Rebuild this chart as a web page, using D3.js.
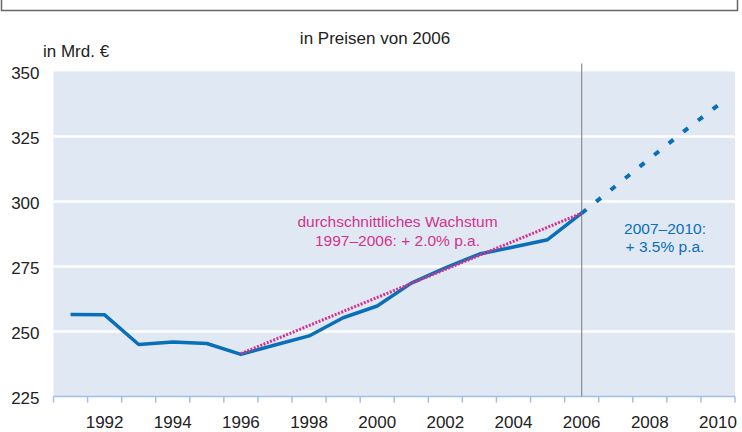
<!DOCTYPE html>
<html>
<head>
<meta charset="utf-8">
<script src="https://cdnjs.cloudflare.com/ajax/libs/d3/7.8.5/d3.min.js"></script>
<style>
  body { margin: 0; background: #fff; }
  text { font-family: "Liberation Sans", Arial, sans-serif; }
</style>
</head>
<body>
<div id="chart"></div>
<script>
// data
var years = d3.range(1991, 2011);
var tickLabels = [1992, 1994, 1996, 1998, 2000, 2002, 2004, 2006, 2008, 2010];
var yTicks = [225, 250, 275, 300, 325, 350];

var actualYears = [1991, 1992, 1993, 1994, 1995, 1996, 1997, 1998, 1999, 2000, 2001, 2002, 2003, 2004, 2005, 2006];
var actualValues = [256.5, 256.4, 245.0, 246.0, 245.4, 241.2, 244.8, 248.3, 255.3, 259.8, 268.6, 274.5, 279.8, 282.5, 285.3, 295.5];

var forecastYears = [2006, 2007, 2008, 2009, 2010];
var forecastValues = [295.5, 306.0, 316.5, 327.0, 337.0];

var trendYears = [1996, 2006];
var trendValues = [241.5, 295.5];

var svgWidth = 742;
var svgHeight = 432;
var margin = { top: 71.5, right: 7, bottom: 35.5, left: 53.5 };
var width = svgWidth - margin.left - margin.right;
var height = svgHeight - margin.top - margin.bottom;

var blue = "#0a6fb9";
var pink = "#d2338f";

var svg = d3
  .select("#chart")
  .append("svg")
  .attr("width", svgWidth)
  .attr("height", svgHeight);

// frame remnant at the top
svg.append("path")
  .attr("d", "M1.5,0V10.5H737.5V0")
  .attr("fill", "none")
  .attr("stroke", "#666")
  .attr("stroke-width", 1.5);

var chart = svg
  .append("g")
  .attr("transform", `translate(${margin.left}, ${margin.top})`);

var xScale = d3.scaleBand().domain(years).range([0, width]).padding(0);
var xc = d => xScale(d) + xScale.bandwidth() / 2;
var yScale = d3.scaleLinear().domain([225, 350]).range([height, 0]);

// background
chart.append("rect")
  .attr("width", width)
  .attr("height", height)
  .attr("fill", "#e0e8f3");

// grid lines
chart.selectAll(".grid")
  .data(yTicks.filter(d => d > 225 && d < 350))
  .enter()
  .append("line")
  .attr("x1", 0)
  .attr("x2", width)
  .attr("y1", d => yScale(d))
  .attr("y2", d => yScale(d))
  .attr("stroke", "#fff")
  .attr("stroke-width", 2.5);

// y labels
chart.selectAll(".ylab")
  .data(yTicks)
  .enter()
  .append("text")
  .attr("x", -14)
  .attr("y", d => yScale(d) + 7.5)
  .attr("text-anchor", "end")
  .attr("font-size", "17px")
  .attr("fill", "#222")
  .text(d => d);

// x axis line and ticks between years
chart.append("line")
  .attr("x1", 0).attr("x2", width)
  .attr("y1", height).attr("y2", height)
  .attr("stroke", "#9fc0e4")
  .attr("stroke-width", 1.5);
chart.selectAll(".xtick")
  .data(years.concat([2011]))
  .enter()
  .append("line")
  .attr("x1", d => d === 2011 ? width : xScale(d))
  .attr("x2", d => d === 2011 ? width : xScale(d))
  .attr("y1", height)
  .attr("y2", height + 6)
  .attr("stroke", "#9fc0e4")
  .attr("stroke-width", 1.5);
chart.selectAll(".xlab")
  .data(tickLabels)
  .enter()
  .append("text")
  .attr("x", d => xc(d))
  .attr("y", height + 31.5)
  .attr("text-anchor", "middle")
  .attr("font-size", "17px")
  .attr("fill", "#222")
  .text(d => d);

// 2006 divider
chart.append("line")
  .attr("x1", xc(2006)).attr("x2", xc(2006))
  .attr("y1", -8).attr("y2", height)
  .attr("stroke", "#8c8c8c")
  .attr("stroke-width", 1.2);

var line = d3.line()
  .x(d => xc(d[0]))
  .y(d => yScale(d[1]));

chart.append("path")
  .datum(actualYears.map((y, i) => [y, actualValues[i]]))
  .attr("d", line)
  .attr("fill", "none")
  .attr("stroke", blue)
  .attr("stroke-width", 3.5)
  .attr("stroke-linejoin", "round");

chart.append("path")
  .datum(forecastYears.map((y, i) => [y, forecastValues[i]]))
  .attr("d", line)
  .attr("fill", "none")
  .attr("stroke", blue)
  .attr("stroke-width", 4)
  .attr("stroke-dasharray", "6,12.6");

chart.append("path")
  .datum(trendYears.map((y, i) => [y, trendValues[i]]))
  .attr("d", line)
  .attr("fill", "none")
  .attr("stroke", pink)
  .attr("stroke-width", 3)
  .attr("stroke-dasharray", "2,1.5");

// texts
svg.append("text")
  .attr("x", 375)
  .attr("y", 43.5)
  .attr("text-anchor", "middle")
  .attr("font-size", "17px")
  .attr("fill", "#222")
  .text("in Preisen von 2006");
svg.append("text")
  .attr("x", 43)
  .attr("y", 57)
  .attr("font-size", "17px")
  .attr("fill", "#222")
  .text("in Mrd. €");

var pinkText = svg.append("text")
  .attr("text-anchor", "middle")
  .attr("font-size", "15.5px")
  .attr("fill", pink);
pinkText.append("tspan").attr("x", 397.5).attr("y", 226.5).text("durchschnittliches Wachstum");
pinkText.append("tspan").attr("x", 397.5).attr("y", 245.5).text("1997–2006: + 2.0% p.a.");

var blueText = svg.append("text")
  .attr("text-anchor", "middle")
  .attr("font-size", "15.5px")
  .attr("fill", blue);
blueText.append("tspan").attr("x", 665).attr("y", 233.5).text("2007–2010:");
blueText.append("tspan").attr("x", 665).attr("y", 252).text("+ 3.5% p.a.");
</script>
</body>
</html>
